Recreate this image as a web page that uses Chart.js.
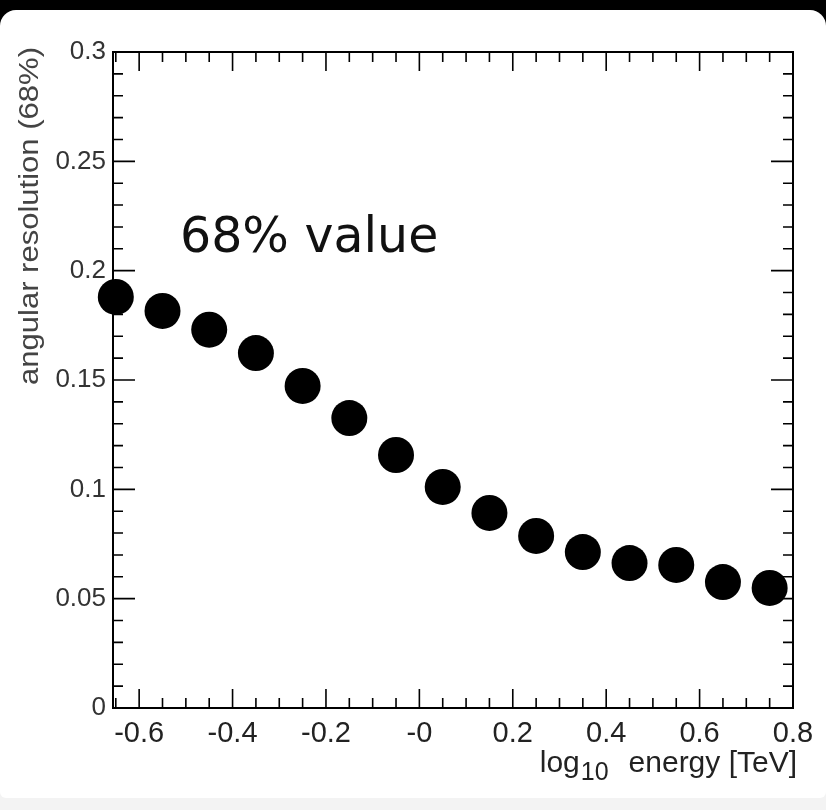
<!DOCTYPE html>
<html lang="en">
<head>
<meta charset="utf-8">
<script src="https://cdn.jsdelivr.net/npm/chart.js@4.4.1/dist/chart.umd.min.js"></script>
<style>
    html, body { margin: 0; padding: 0; background: #000; }
    #wrap { width: 826px; height: 810px; position: relative; }
</style>
</head>
<body>
<div id="wrap"><canvas id="myChart" width="826" height="810"></canvas></div>
<script>
    // data
    var energy = [-0.65, -0.55, -0.45, -0.35, -0.25, -0.15, -0.05, 0.05, 0.15, 0.25, 0.35, 0.45, 0.55, 0.65, 0.75];
    var resolution = [0.188, 0.1816, 0.173, 0.1623, 0.1473, 0.1326, 0.1157, 0.1011, 0.0892, 0.0787, 0.0713, 0.0663, 0.0654, 0.0576, 0.0549];

    var xTicks = [-0.6, -0.4, -0.2, 0, 0.2, 0.4, 0.6, 0.8];
    var xTickLabels = ['-0.6', '-0.4', '-0.2', '-0', '0.2', '0.4', '0.6', '0.8'];
    var yTicks = [0, 0.05, 0.1, 0.15, 0.2, 0.25, 0.3];
    var yTickLabels = ['0', '0.05', '0.1', '0.15', '0.2', '0.25', '0.3'];

    var xMin = -0.656, xMax = 0.8;
    var yMin = 0, yMax = 0.3;

    // page background: black band on top, white rounded panel
    var backdrop = {
        id: 'backdrop',
        beforeDraw: function (chart) {
            var ctx = chart.ctx;
            ctx.save();
            ctx.fillStyle = '#000';
            ctx.fillRect(0, 0, chart.width, chart.height);
            ctx.fillStyle = '#f3f3f3';
            ctx.fillRect(0, 790, chart.width, chart.height - 790);
            ctx.fillStyle = '#fff';
            ctx.beginPath();
            ctx.roundRect(0, 10, chart.width, 788, [16, 16, 6, 6]);
            ctx.fill();
            ctx.restore();
        }
    };

    // ROOT style frame with inner ticks on all four sides
    var frame = {
        id: 'frame',
        beforeDatasetsDraw: function (chart) {
            var ctx = chart.ctx, a = chart.chartArea;
            var xs = chart.scales.x, ys = chart.scales.y;
            ctx.save();
            ctx.strokeStyle = '#000';
            ctx.lineWidth = 2;
            ctx.strokeRect(a.left, a.top, a.right - a.left, a.bottom - a.top);
            ctx.lineWidth = 1.6;
            ctx.beginPath();
            for (var i = -13; i <= 16; i++) {
                var v = i * 0.05;
                if (v < xMin - 1e-9 || v > xMax + 1e-9) continue;
                var px = xs.getPixelForValue(v);
                var len = (Math.abs(i % 4) === 0) ? 19 : 10;
                ctx.moveTo(px, a.bottom); ctx.lineTo(px, a.bottom - len);
                ctx.moveTo(px, a.top); ctx.lineTo(px, a.top + len);
            }
            for (var j = 0; j <= 30; j++) {
                var py = ys.getPixelForValue(j * 0.01);
                var l2 = (j % 5 === 0) ? 22 : 10;
                ctx.moveTo(a.left, py); ctx.lineTo(a.left + l2, py);
                ctx.moveTo(a.right, py); ctx.lineTo(a.right - l2, py);
            }
            ctx.stroke();
            ctx.restore();
        },
        afterDraw: function (chart) {
            var ctx = chart.ctx;
            ctx.save();
            // x title with subscript
            ctx.fillStyle = '#222';
            ctx.textBaseline = 'alphabetic';
            ctx.textAlign = 'right';
            ctx.font = '30px "Liberation Sans", Arial, sans-serif';
            var right = 797;
            ctx.fillText('energy [TeV]', right, 772);
            right -= ctx.measureText('energy [TeV]').width + 20;
            ctx.font = '25px "Liberation Sans", Arial, sans-serif';
            ctx.fillText('10', right, 780);
            right -= ctx.measureText('10').width + 1;
            ctx.font = '30px "Liberation Sans", Arial, sans-serif';
            ctx.fillText('log', right, 772);

            // y title, rotated
            ctx.fillStyle = '#444';
            ctx.font = '27px "Liberation Sans", Arial, sans-serif';
            var t = 'angular resolution (68%)';
            var w = ctx.measureText(t).width;
            ctx.translate(31, 216);
            ctx.rotate(-Math.PI / 2);
            ctx.scale(338 / w, 1);
            ctx.textAlign = 'center';
            ctx.textBaseline = 'middle';
            ctx.fillText(t, 0, 0);
            ctx.restore();

            // annotation
            ctx.save();
            ctx.fillStyle = '#111';
            ctx.font = '49px "DejaVu Sans", sans-serif';
            ctx.textAlign = 'left';
            ctx.textBaseline = 'alphabetic';
            ctx.fillText('68% value', 180, 252);
            ctx.restore();
        }
    };

    var points = energy.map(function (e, i) {
        return { x: e, y: resolution[i] };
    });

    var ctx = document.getElementById('myChart').getContext('2d');
    var myChart = new Chart(ctx, {
        type: 'scatter',
        data: {
            datasets: [{
                label: '68% value',
                data: points,
                pointRadius: 18,
                pointHoverRadius: 18,
                pointBackgroundColor: '#000',
                pointBorderColor: '#000',
                pointBorderWidth: 0,
                clip: false
            }]
        },
        options: {
            responsive: false,
            animation: false,
            devicePixelRatio: 1,
            layout: { padding: { left: 0, right: 33, top: 52, bottom: 0 } },
            plugins: {
                legend: { display: false },
                title: { display: false },
                tooltip: { enabled: false }
            },
            scales: {
                x: {
                    type: 'linear',
                    min: xMin,
                    max: xMax,
                    afterBuildTicks: function (s) {
                        s.ticks = xTicks.map(function (v) { return { value: v }; });
                    },
                    afterFit: function (s) { s.height = 102; },
                    ticks: {
                        autoSkip: false,
                        maxRotation: 0,
                        padding: 9,
                        color: '#222',
                        font: { family: '"Liberation Sans", Arial, sans-serif', size: 29 },
                        callback: function (v, i) { return xTickLabels[i]; }
                    },
                    grid: { display: false, drawTicks: false },
                    border: { display: false }
                },
                y: {
                    type: 'linear',
                    min: yMin,
                    max: yMax,
                    afterBuildTicks: function (s) {
                        s.ticks = yTicks.map(function (v) { return { value: v }; });
                    },
                    afterFit: function (s) { s.width = 113; },
                    ticks: {
                        autoSkip: false,
                        padding: 7,
                        color: '#333',
                        font: { family: '"Liberation Sans", Arial, sans-serif', size: 26 },
                        callback: function (v, i) { return yTickLabels[i]; }
                    },
                    grid: { display: false, drawTicks: false },
                    border: { display: false }
                }
            }
        },
        plugins: [backdrop, frame]
    });
</script>
</body>
</html>
